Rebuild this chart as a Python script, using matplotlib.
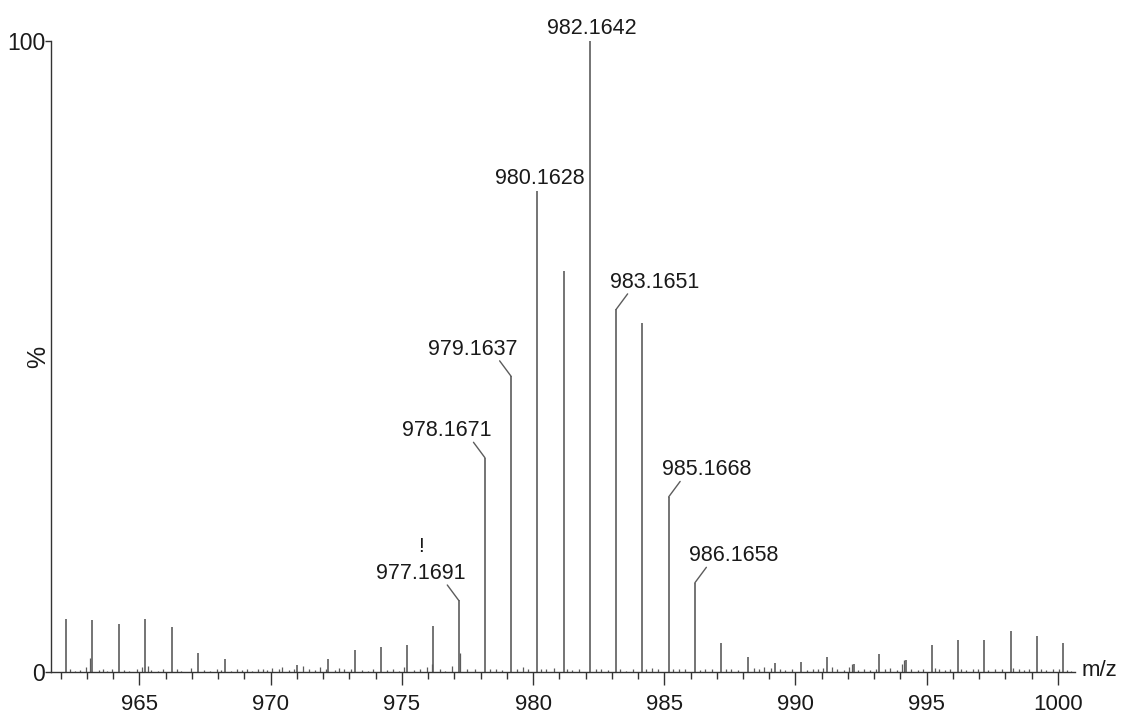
import matplotlib
matplotlib.use("Agg")
import matplotlib.pyplot as plt
from matplotlib.ticker import MultipleLocator, FixedLocator
from matplotlib import font_manager

_names = {f.name for f in font_manager.fontManager.ttflist}
if 'Liberation Sans Narrow' in _names:
    plt.rcParams['font.family'] = ['Liberation Sans Narrow', 'DejaVu Sans']
    lab_fs, tick_fs = 16.5, 17
else:
    plt.rcParams['font.family'] = ['Liberation Sans', 'DejaVu Sans']
    lab_fs, tick_fs = 15.5, 16

# ---- data (m/z, relative intensity %) ----
peak_mz = [962.19, 963.20, 964.22, 965.22, 966.23, 967.22, 968.27, 971.00, 972.20,
           973.22, 974.20, 975.20, 976.19, 977.1691, 978.1671, 979.1637, 980.1628,
           981.16, 982.1642, 983.1651, 984.17, 985.1668, 986.1658, 987.17, 988.20,
           989.20, 990.22, 991.20, 992.22, 993.20, 994.20, 995.20, 996.19, 997.19,
           998.20, 999.19, 1000.19]
peak_int = [8.5, 8.3, 7.7, 8.5, 7.2, 3.1, 2.1, 1.2, 2.1,
            3.5, 4.0, 4.3, 7.3, 11.4, 34.0, 46.9, 76.3,
            63.5, 100.0, 57.5, 55.4, 27.8, 14.2, 4.6, 2.4,
            1.5, 1.7, 2.4, 1.3, 3.0, 1.9, 4.3, 5.1, 5.1,
            6.6, 5.7, 4.6]

noise_mz = [962.35, 962.55, 962.75, 962.95, 963.12, 963.45, 963.62, 963.78, 963.95, 964.40,
            964.62, 964.90, 965.08, 965.32, 965.45, 965.70, 965.90, 966.42, 966.60, 966.95,
            967.45, 967.70, 967.95, 968.10, 968.50, 968.72, 968.90, 969.10, 969.30, 969.50,
            969.72, 969.85, 970.05, 970.30, 970.45, 970.70, 970.90, 971.25, 971.45, 971.70,
            971.90, 972.10, 972.45, 972.60, 972.80, 973.05, 973.50, 973.70, 973.90, 974.45,
            974.65, 974.90, 975.10, 975.45, 975.70, 975.95, 976.13, 976.45, 976.65, 976.90,
            977.23, 977.50, 977.80, 978.35, 978.60, 978.80, 979.40, 979.62, 979.80, 980.30,
            980.50, 980.80, 981.30, 981.50, 981.75, 982.40, 982.60, 982.85, 983.30, 983.55,
            983.80, 984.30, 984.55, 984.75, 985.35, 985.55, 985.80, 986.35, 986.55, 986.80,
            987.35, 987.55, 987.80, 988.40, 988.60, 988.80, 989.05, 989.40, 989.60, 989.85,
            990.45, 990.65, 990.85, 991.05, 991.40, 991.60, 991.85, 992.05, 992.15, 992.40,
            992.60, 992.85, 993.05, 993.40, 993.60, 993.85, 994.05, 994.15, 994.40, 994.65,
            994.85, 995.30, 995.45, 995.70, 995.90, 996.30, 996.50, 996.75, 996.95, 997.35,
            997.60, 997.85, 998.30, 998.50, 998.70, 998.90, 999.35, 999.55, 999.80, 1000.05,
            1000.35, 1000.50]
noise_int = [0.6, 0.3, 0.4, 0.8, 2.3, 0.4, 0.5, 0.3, 0.6, 0.4,
             0.3, 0.5, 0.8, 1.1, 0.4, 0.3, 0.6, 0.5, 0.3, 0.7,
             0.4, 0.3, 0.5, 0.4, 0.3, 0.6, 0.4, 0.5, 0.3, 0.6,
             0.5, 0.4, 0.7, 0.5, 0.8, 0.4, 0.6, 1.1, 0.5, 0.4,
             0.9, 0.6, 0.4, 0.7, 0.5, 0.6, 0.4, 0.3, 0.5, 0.4,
             0.6, 0.3, 0.8, 0.4, 0.5, 0.9, 1.4, 0.5, 0.3, 1.0,
             3.1, 0.6, 0.5, 0.6, 0.5, 0.4, 0.5, 0.8, 0.5, 0.6,
             0.5, 0.7, 0.6, 0.4, 0.5, 0.6, 0.5, 0.4, 0.5, 0.3,
             0.6, 0.5, 0.7, 0.5, 0.6, 0.5, 0.6, 0.4, 0.6, 0.5,
             0.6, 0.5, 0.4, 0.7, 0.5, 0.8, 0.7, 0.6, 0.4, 0.5,
             0.4, 0.6, 0.5, 0.7, 0.8, 0.5, 0.4, 0.9, 1.3, 0.4,
             0.5, 0.4, 0.6, 0.5, 0.7, 0.4, 1.4, 2.0, 0.5, 0.4,
             0.6, 0.7, 0.5, 0.4, 0.6, 0.5, 0.4, 0.6, 0.5, 0.4,
             0.6, 0.5, 0.7, 0.5, 0.4, 0.6, 0.5, 0.4, 0.6, 0.5,
             0.4, 0.3]

label_mz = [977.1691, 978.1671, 979.1637, 980.1628, 982.1642, 983.1651, 985.1668, 986.1658]
label_int = [11.4, 34.0, 46.9, 76.3, 100.0, 57.5, 27.8, 14.2]
label_text = ["977.1691", "978.1671", "979.1637", "980.1628", "982.1642",
              "983.1651", "985.1668", "986.1658"]
label_side = ["left", "left", "left", "top", "top", "right", "right", "right"]

x_min, x_max = 961.62, 1000.65

# ---- figure ----
fig = plt.figure(figsize=(11.22, 7.18), dpi=100)
ax = fig.add_axes([0.0452, 0.0634, 0.9129, 0.8795])

line_col = '#5c5c5c'
txt_col = '#1a1a1a'

ax.vlines(noise_mz, 0, noise_int, color=line_col, linewidth=0.9)
ax.vlines(peak_mz, 0, peak_int, color=line_col, linewidth=1.2)

ax.set_xlim(x_min, x_max)
ax.set_ylim(0, 100)

for s in ['top', 'right']:
    ax.spines[s].set_visible(False)
for s in ['left', 'bottom']:
    ax.spines[s].set_color('#333333')
    ax.spines[s].set_linewidth(1.0)

ax.xaxis.set_major_locator(MultipleLocator(5))
ax.xaxis.set_minor_locator(MultipleLocator(1))
ax.tick_params(axis='x', which='major', direction='out', length=9.5, width=1.0,
               color='#333333', pad=6, labelsize=tick_fs, labelcolor=txt_col)
ax.tick_params(axis='x', which='minor', direction='out', length=5, width=1.0,
               color='#333333')
ax.yaxis.set_major_locator(FixedLocator([0, 100]))
ax.set_yticklabels(['0', '100'])
ax.tick_params(axis='y', which='major', direction='out', length=4, width=1.0,
               color='#333333', pad=0, labelsize=tick_fs + 0.5, labelcolor=txt_col)

# ---- peak labels ----
for mz, h, t, side in zip(label_mz, label_int, label_text, label_side):
    if side == 'top':
        ax.annotate(t, xy=(mz, h), xytext=(2, 7), textcoords='offset pixels',
                    ha='center', va='baseline', fontsize=lab_fs, color=txt_col)
        continue
    sgn = -1 if side == 'left' else 1
    ax.annotate('', xy=(mz, h), xytext=(sgn * 11.5, 15.5), textcoords='offset pixels',
                arrowprops=dict(arrowstyle='-', color=line_col, lw=1.0,
                                shrinkA=0, shrinkB=0))
    ax.annotate(t, xy=(mz, h), xytext=(sgn * 38.5, 21.5), textcoords='offset pixels',
                ha='center', va='baseline', fontsize=lab_fs, color=txt_col)
    if t == "977.1691":
        ax.annotate('!', xy=(mz, h), xytext=(sgn * 37.5, 48), textcoords='offset pixels',
                    ha='center', va='baseline', fontsize=lab_fs - 1, color=txt_col)

# ---- axis titles ----
fig.text(38 / 1122, 1 - 357 / 718, '%', rotation=90, ha='center', va='center',
         fontsize=18, color=txt_col)
fig.text(1082 / 1122, 1 - 671 / 718, 'm/z', ha='left', va='center',
         fontsize=16, color=txt_col)

fig.savefig('out.png', dpi=100)
